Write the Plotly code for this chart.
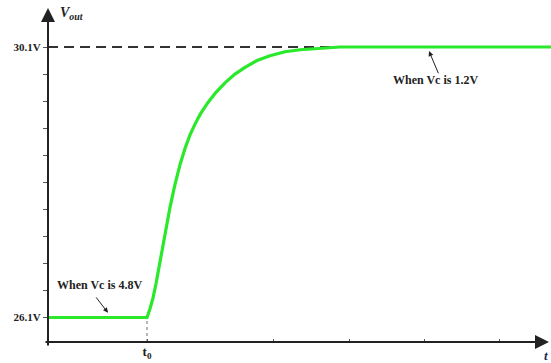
import plotly.graph_objects as go

# ---- data (time in arbitrary units, voltage in V) ----
t_curve = [0.0, 0.99, 1.02, 1.05, 1.08, 1.12, 1.17, 1.22, 1.27, 1.32, 1.37, 1.42, 1.47,
           1.52, 1.60, 1.68, 1.77, 1.87, 1.97, 2.09, 2.22, 2.37, 2.52, 2.72, 2.92, 5.03]
v_curve = [26.1, 26.1, 26.23, 26.39, 26.60, 26.92, 27.34, 27.73, 28.07, 28.36, 28.60, 28.80, 28.96,
           29.10, 29.28, 29.43, 29.57, 29.70, 29.80, 29.90, 29.97, 30.03, 30.06, 30.085, 30.1, 30.1]

t0 = 0.99
v_low = 26.1
v_high = 30.1
x_ticks = [0.99, 2.25, 3.01, 3.76, 4.51]
x_ticktext = ["<b>t<sub>0</sub></b>", " ", " ", " ", " "]
y_ticks = [26.1, 26.5, 26.9, 27.3, 27.7, 28.1, 28.5, 28.9, 29.3, 29.7, 30.1]
y_ticktext = ["<b>26.1V</b>", " ", " ", " ", " ", " ", " ", " ", " ", " ", "<b>30.1V</b>"]

x_range = [0.0, 5.03]
y_range = [25.738, 30.677]

serif = "Liberation Serif, Times New Roman, serif"
ink = "#222222"

fig = go.Figure()

# dashed reference line at final value
fig.add_trace(go.Scatter(x=[0.0, x_range[1]], y=[v_high, v_high], mode="lines",
                         line=dict(color="#333333", width=2, dash="10px,6px"),
                         hoverinfo="skip", showlegend=False))
# dashed marker at t0
fig.add_trace(go.Scatter(x=[t0, t0], y=[y_range[0], v_low], mode="lines",
                         line=dict(color="#888888", width=1.2, dash="3px,3px"),
                         hoverinfo="skip", showlegend=False))
# response curve
fig.add_trace(go.Scatter(x=t_curve, y=v_curve, mode="lines",
                         line=dict(color="#2ae82a", width=3.2, shape="linear"),
                         hoverinfo="skip", showlegend=False))

annotations = [
    # y axis with arrow
    dict(x=0.0, y=y_range[1], ax=0.0, ay=25.664, xref="x", yref="y", axref="x", ayref="y",
         text="", showarrow=True, arrowhead=2, arrowsize=1.4, arrowwidth=2, arrowcolor=ink,
         standoff=0, startstandoff=0),
    # x axis with arrow
    dict(x=5.01, y=y_range[0], ax=-0.04, ay=y_range[0], xref="x", yref="y", axref="x", ayref="y",
         text="", showarrow=True, arrowhead=2, arrowsize=1.4, arrowwidth=2, arrowcolor=ink,
         standoff=0, startstandoff=0),
    # axis titles
    dict(x=0.02, y=0.985, xref="paper", yref="paper", text="<b><i>V<sub>out</sub></i></b>",
         showarrow=False, xanchor="left", yanchor="middle",
         font=dict(family=serif, size=14, color=ink)),
    dict(x=0.990, y=-0.039, xref="paper", yref="paper", text="<b><i>t</i></b>", showarrow=False,
         xanchor="center", yanchor="middle",
         font=dict(family=serif, size=13, color="#1a2a55")),
    # callouts
    dict(x=0.60, y=26.17, xref="x", yref="y", ax=0.47, ay=26.42, axref="x", ayref="y",
         text="", showarrow=True, arrowhead=2, arrowsize=1, arrowwidth=1, arrowcolor=ink,
         standoff=0),
    dict(x=0.51, y=26.58, xref="x", yref="y", text="<b>When Vc is 4.8V</b>", showarrow=False,
         xanchor="center", yanchor="middle", font=dict(family=serif, size=12, color=ink)),
    dict(x=3.81, y=30.04, xref="x", yref="y", ax=3.91, ay=29.69, axref="x", ayref="y",
         text="", showarrow=True, arrowhead=2, arrowsize=1, arrowwidth=1, arrowcolor=ink,
         standoff=0),
    dict(x=3.87, y=29.615, xref="x", yref="y", text="<b>When Vc is 1.2V</b>", showarrow=False,
         xanchor="center", yanchor="middle", font=dict(family=serif, size=12, color=ink)),
]

fig.update_layout(
    width=551, height=363, autosize=False,
    margin=dict(l=48, r=0, t=8, b=21, pad=0),
    paper_bgcolor="white", plot_bgcolor="white",
    annotations=annotations,
    xaxis=dict(range=x_range, showgrid=False, zeroline=False, showline=False,
               tickmode="array", tickvals=x_ticks, ticktext=x_ticktext,
               ticks="inside", ticklen=3, tickwidth=1, tickcolor="#555555",
               tickfont=dict(family=serif, size=13, color=ink), automargin=False, fixedrange=True),
    yaxis=dict(range=y_range, showgrid=False, zeroline=False, showline=False,
               tickmode="array", tickvals=y_ticks, ticktext=y_ticktext,
               ticks="outside", ticklen=4, tickwidth=1, tickcolor="#555555",
               tickfont=dict(family=serif, size=11, color=ink), automargin=False, fixedrange=True),
)

fig.write_html("out.html")
